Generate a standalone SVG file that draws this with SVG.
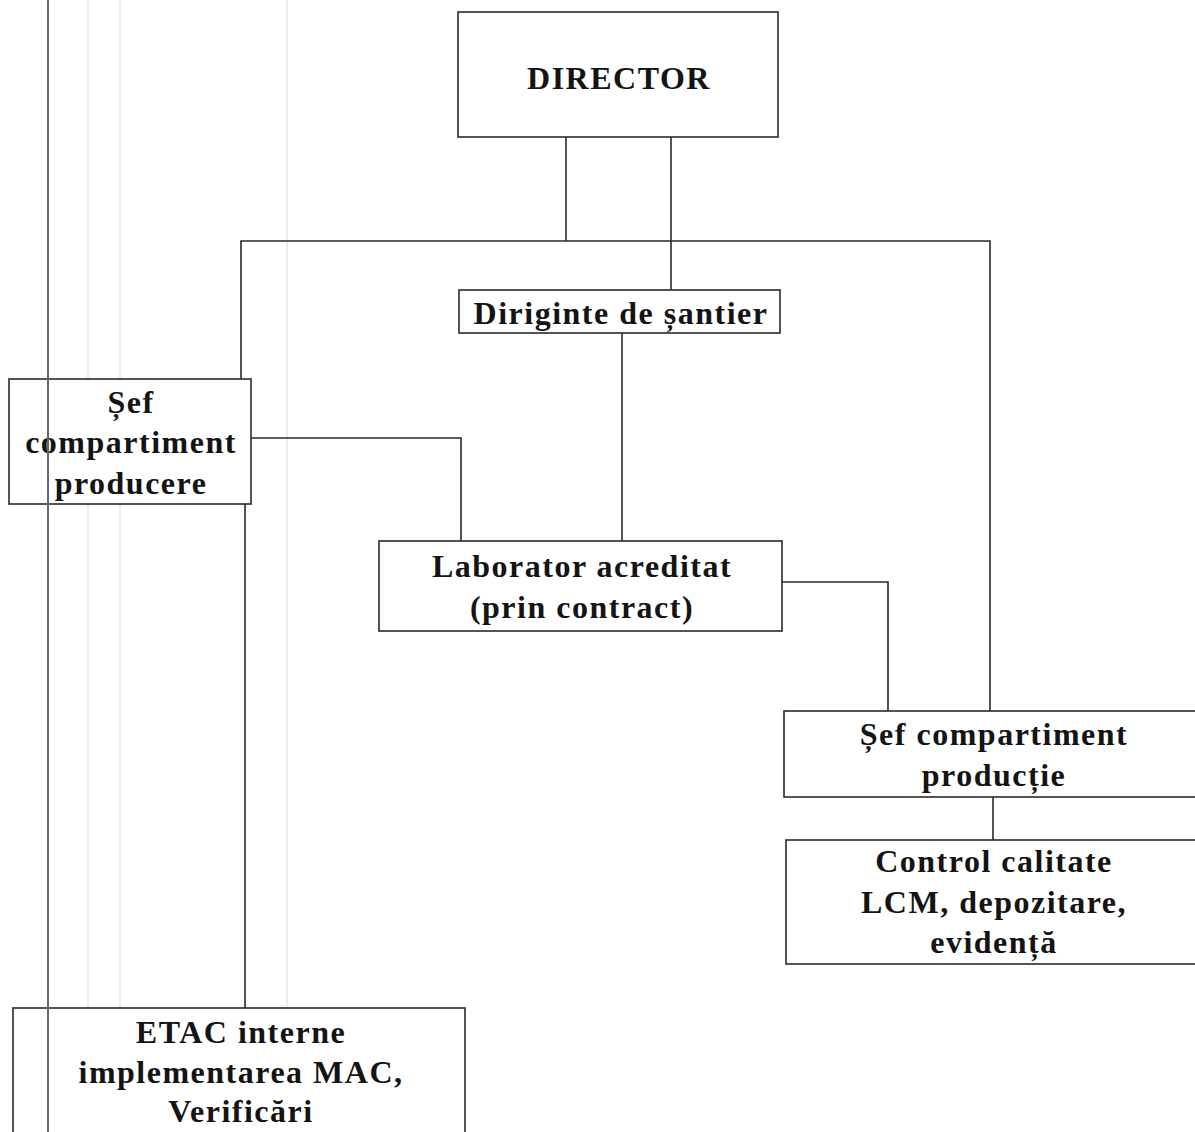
<svg xmlns="http://www.w3.org/2000/svg" width="1195" height="1132" viewBox="0 0 1195 1132">
<style>
.bg{fill:#ffffff}
.box{fill:#ffffff;stroke:#2a2a2a;stroke-width:1.6}
.conn{fill:none;stroke:#2a2a2a;stroke-width:1.6}
.scan{stroke:#666;stroke-width:2}
.faint{stroke:#ececec;stroke-width:2}
.t{font-family:"Liberation Serif","Times New Roman",serif;font-weight:bold;font-size:32px;letter-spacing:1.5px;fill:#141414;text-anchor:middle}
</style>
<rect class="bg" x="0" y="0" width="1195" height="1132"/>
<g id="scan-lines">
<line class="faint" x1="88" y1="0" x2="88" y2="1132"/>
<line class="faint" x1="120" y1="0" x2="120" y2="1132"/>
<line class="faint" x1="287" y1="0" x2="287" y2="1132"/>
</g>
<g id="connectors">
<path class="conn" d="M566 137 V241"/>
<path class="conn" d="M671 137 V290"/>
<path class="conn" d="M241 379 V241 H990 V711"/>
<path class="conn" d="M622 333 V541"/>
<path class="conn" d="M251 438 H461 V541"/>
<path class="conn" d="M782 582 H888 V711"/>
<path class="conn" d="M993 797 V840"/>
<path class="conn" d="M245 504 V1008"/>
</g>
<g id="director">
<rect class="box" x="458" y="12" width="320" height="125"/>
<text class="t" x="619" y="89">DIRECTOR</text>
</g>
<g id="diriginte">
<rect class="box" x="459" y="290" width="321" height="43"/>
<text class="t" x="621" y="324">Diriginte de șantier</text>
</g>
<g id="sef-producere">
<rect class="box" x="9" y="379" width="242" height="125"/>
<text class="t" x="131" y="413">Șef</text>
<text class="t" x="131" y="453">compartiment</text>
<text class="t" x="131" y="494">producere</text>
</g>
<g id="laborator">
<rect class="box" x="379" y="541" width="403" height="90"/>
<text class="t" x="582" y="577">Laborator acreditat</text>
<text class="t" x="582" y="618">(prin contract)</text>
</g>
<g id="sef-productie">
<rect class="box" x="784" y="711" width="420" height="86"/>
<text class="t" x="994" y="745">Șef compartiment</text>
<text class="t" x="994" y="786">producție</text>
</g>
<g id="control-calitate">
<rect class="box" x="786" y="840" width="420" height="124"/>
<text class="t" x="994" y="872">Control calitate</text>
<text class="t" x="994" y="913">LCM, depozitare,</text>
<text class="t" x="994" y="953">evidență</text>
</g>
<g id="etac">
<rect class="box" x="13" y="1008" width="452" height="140"/>
<text class="t" x="241" y="1043">ETAC interne</text>
<text class="t" x="241" y="1083">implementarea MAC,</text>
<text class="t" x="241" y="1122">Verificări</text>
</g>
<g id="scan-edge">
<line class="scan" x1="48" y1="0" x2="48" y2="1132"/>
</g>
</svg>
